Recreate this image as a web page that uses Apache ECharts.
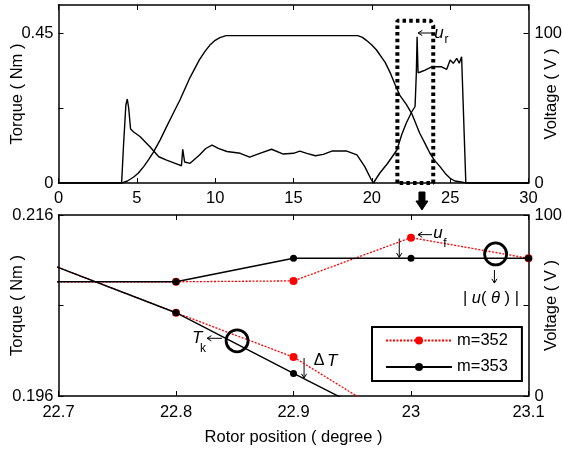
<!DOCTYPE html>
<html><head><meta charset="utf-8">
<script src="https://cdn.jsdelivr.net/npm/echarts@6/dist/echarts.min.js"></script>
<style>html,body{margin:0;padding:0;background:#fff}#c{width:563px;height:452px}</style>
</head><body><div id="c"></div><script>
// ---- tick values ----
const topXTicks = [0, 5, 10, 15, 20, 25, 30];
const topTorqueTicks = [0, 0.225, 0.45];
const topTorqueLabels = [0, 0.45];
const topVoltTicks = [0, 50, 100];
const topVoltLabels = [0, 100];
const botXTicks = [22.7, 22.8, 22.9, 23, 23.1];
const botTorqueTicks = [0.196, 0.206, 0.216];
const botTorqueLabels = [0.196, 0.216];
const botVoltTicks = [0, 50, 100];
const botVoltLabels = [0, 100];

// ---- top panel data: [rotor position, value] ----
const torqueTop = [[0,0],[4.05,0],[4.4,0.006],[4.8,0.018],[5.1,0.03],[5.45,0.05],[5.75,0.07],[6.05,0.092],[6.5,0.13],[6.9,0.169],[7.3,0.207],[7.75,0.249],[8.4,0.317],[9.0,0.37],[9.35,0.395],[9.65,0.413],[10.0,0.428],[10.3,0.436],[10.7,0.442],[19.1,0.442],[19.4,0.437],[19.65,0.428],[20.0,0.414],[20.3,0.399],[20.85,0.362],[21.2,0.328],[21.5,0.293],[21.8,0.262],[22.2,0.236],[22.54,0.209],[23.05,0.15],[23.4,0.118],[23.7,0.09],[24.0,0.068],[24.35,0.049],[24.7,0.028],[25.0,0.014],[25.3,0.006],[25.7,0.003],[26.0,0],[30,0]];
const voltageTop = [[0,0],[4.03,0],[4.15,25],[4.3,52],[4.39,56],[4.48,50],[4.6,36],[4.8,34],[5.2,31],[5.85,24],[6.4,17.5],[6.9,15.3],[7.45,13.1],[7.85,11.5],[7.93,22.5],[8.05,14],[8.4,13.1],[9.0,18.7],[9.4,23],[9.8,25.3],[10.2,23.1],[10.75,21],[11.6,19.8],[12.2,17.3],[12.85,19.8],[13.6,22.5],[14.35,19.3],[15.0,19.8],[15.4,21.3],[15.85,19.8],[16.4,18.2],[16.9,19.1],[17.45,21.3],[18.4,21.3],[19.05,18.7],[19.55,10.9],[19.95,2.5],[20.1,0],[20.5,6.5],[21.0,13],[21.6,22],[21.9,32],[22.2,40],[22.55,47.5],[22.76,51],[22.84,73],[22.89,97.5],[22.95,73.5],[23.1,74],[23.4,75.3],[23.82,77.5],[24.45,77.5],[24.78,75.8],[25.0,82],[25.2,79.8],[25.42,83.1],[25.58,79.8],[25.73,84.2],[26.0,0],[30,0]];
const zoomBox = [[21.63,0],[21.63,0.487],[23.75,0.487],[23.92,0.472],[23.92,0],[21.63,0]];

// ---- bottom panel data ----
const torque352 = [[22.6,0.2152],[22.8,0.2052],[22.9,0.2003],[23.0,0.1923]];
const torque353 = [[22.6,0.2152],[22.8,0.2052],[22.9,0.1985],[23.0,0.1919]];
const volt352 = [[22.6,63.1],[22.8,63.1],[22.9,63.6],[23.0,87.5],[23.1,76.1]];
const volt353 = [[22.6,63.1],[22.8,63.1],[22.9,76.1],[23.0,76.1],[23.1,76.1]];

const FONT = 'Liberation Sans, Arial, Helvetica, sans-serif';
const FS = 16.5;
const axLine = {show:true, onZero:false, lineStyle:{color:'#000', width:1.5}};
function tick(vals){ return {show:true, inside:true, length:5, customValues:vals, lineStyle:{color:'#000', width:1}}; }
function lab(vals, show, margin){ return {show:show, customValues:vals, color:'#000', fontSize:FS, fontFamily:FONT, margin:margin}; }
function nm(text, gap){ return {name:text, nameLocation:'middle', nameGap:gap, nameMoveOverlap:false, nameTextStyle:{color:'#000', fontSize:FS, fontFamily:FONT}}; }

const chart = echarts.init(document.getElementById('c'), null, {renderer:'canvas'});
const option = {
  animation:false,
  backgroundColor:'#fff',
  textStyle:{fontFamily:FONT},
  grid:[
    {left:58.5, top:5, width:470, height:178, containLabel:false, outerBoundsMode:'none'},
    {left:58.5, top:215, width:470, height:181, containLabel:false, outerBoundsMode:'none'}
  ],
  xAxis:[
    {gridIndex:0, type:'value', min:0, max:30, position:'bottom', axisLine:axLine, axisTick:tick(topXTicks), axisLabel:lab(topXTicks,true,7), splitLine:{show:false}},
    {gridIndex:0, type:'value', min:0, max:30, position:'top', axisLine:axLine, axisTick:tick(topXTicks), axisLabel:{show:false}, splitLine:{show:false}},
    Object.assign({gridIndex:1, type:'value', min:22.7, max:23.1, position:'bottom', axisLine:axLine, axisTick:tick(botXTicks), axisLabel:lab(botXTicks,true,8), splitLine:{show:false}}, nm('Rotor position ( degree )', 33)),
    {gridIndex:1, type:'value', min:22.7, max:23.1, position:'top', axisLine:axLine, axisTick:tick(botXTicks), axisLabel:{show:false}, splitLine:{show:false}}
  ],
  yAxis:[
    Object.assign({gridIndex:0, type:'value', min:0, max:0.534, position:'left', axisLine:axLine, axisTick:tick(topTorqueTicks), axisLabel:lab(topTorqueLabels,true,5), splitLine:{show:false}}, nm('Torque ( Nm )', 33)),
    Object.assign({gridIndex:0, type:'value', min:0, max:118.67, position:'right', axisLine:axLine, axisTick:tick(topVoltTicks), axisLabel:lab(topVoltLabels,true,6), splitLine:{show:false}}, nm('Voltage ( V )', 14)),
    Object.assign({gridIndex:1, type:'value', min:0.196, max:0.216, position:'left', axisLine:axLine, axisTick:tick(botTorqueTicks), axisLabel:lab(botTorqueLabels,true,5), splitLine:{show:false}}, nm('Torque ( Nm )', 33)),
    Object.assign({gridIndex:1, type:'value', min:0, max:100, position:'right', axisLine:axLine, axisTick:tick(botVoltTicks), axisLabel:lab(botVoltLabels,true,6), splitLine:{show:false}}, nm('Voltage ( V )', 14))
  ],
  legend:{
    data:['m=352','m=353'], orient:'vertical', left:372, top:327,
    itemWidth:66, itemHeight:10, itemGap:9.4,
    padding:[5,14,5.6,13], borderColor:'#000', borderWidth:2,
    textStyle:{color:'#000', fontSize:FS, fontFamily:FONT}, selectedMode:false
  },
  series:[
    {type:'line', xAxisIndex:0, yAxisIndex:0, data:torqueTop, symbol:'none', lineStyle:{color:'#000', width:1.4}, z:3},
    {type:'line', xAxisIndex:0, yAxisIndex:1, data:voltageTop, symbol:'none', lineStyle:{color:'#000', width:1.4}, z:3},
    {type:'line', xAxisIndex:0, yAxisIndex:0, data:zoomBox, symbol:'none', clip:false, lineStyle:{color:'#000', width:4, type:[3.5,3.2]}, z:4},
    {name:'m=352', type:'line', xAxisIndex:2, yAxisIndex:2, data:torque352, symbol:'circle', symbolSize:8, itemStyle:{color:'#ff0000'}, lineStyle:{color:'#ff0000', width:1.3, type:[2,1.5]}, z:3},
    {name:'m=352', type:'line', xAxisIndex:2, yAxisIndex:3, data:volt352, symbol:'circle', symbolSize:8, itemStyle:{color:'#ff0000'}, lineStyle:{color:'#ff0000', width:1.3, type:[2,1.5]}, z:3},
    {name:'m=353', type:'line', xAxisIndex:2, yAxisIndex:2, data:torque353, symbol:'circle', symbolSize:7, itemStyle:{color:'#000'}, lineStyle:{color:'#000', width:1.4}, z:4},
    {name:'m=353', type:'line', xAxisIndex:2, yAxisIndex:3, data:volt353, symbol:'circle', symbolSize:7, itemStyle:{color:'#000'}, lineStyle:{color:'#000', width:1.4}, z:4}
  ]
};
chart.setOption(option);

// ---- annotations ----
function P(xi, yi, pt){ return chart.convertToPixel({xAxisIndex:xi, yAxisIndex:yi}, pt); }
function arrowEl(x1,y1,x2,y2){
  const a = Math.atan2(y2-y1, x2-x1), h = 5, s = 0.55;
  return {type:'group', z:100, children:[
    {type:'line', shape:{x1:x1,y1:y1,x2:x2,y2:y2}, style:{stroke:'#000', lineWidth:1}},
    {type:'polyline', shape:{points:[[x2-h*Math.cos(a-s), y2-h*Math.sin(a-s)],[x2,y2],[x2-h*Math.cos(a+s), y2-h*Math.sin(a+s)]]}, style:{stroke:'#000', lineWidth:1, fill:null}}
  ]};
}
function txt(x,y,t,size,italic,align){
  return {type:'text', z:100, x:x, y:y, style:{text:t, fontSize:size, fontFamily:FONT, fontStyle:italic?'italic':'normal', fill:'#000', align:align||'center', verticalAlign:'middle'}};
}
function circ(c, r){ return {type:'circle', z:100, shape:{cx:c[0], cy:c[1], r:r}, style:{stroke:'#000', lineWidth:2.8, fill:null}}; }

const g = [];
// top panel: u_r label pointing at spike
const ur = P(0, 1, [22.95, 100]);
g.push(arrowEl(ur[0]+15, ur[1], ur[0], ur[1]));
g.push(txt(ur[0]+21, ur[1], 'u', 17, true));
g.push(txt(ur[0]+28.5, ur[1]+7, 'r', 12, false));
// big down arrow between panels
const ba = P(0, 0, [23.2, 0]);
g.push({type:'polygon', z:100, shape:{points:[[ba[0]-3,ba[1]+9],[ba[0]+3,ba[1]+9],[ba[0]+3,ba[1]+18],[ba[0]+6,ba[1]+18],[ba[0],ba[1]+27],[ba[0]-6,ba[1]+18],[ba[0]-3,ba[1]+18]]}, style:{fill:'#000', stroke:'#000', lineWidth:1}});
// bottom: Tk
const tk = P(2, 2, [22.852, 0.2021]);
g.push(circ(tk, 11));
g.push(arrowEl(tk[0]-15, tk[1]-2.5, tk[0]-30, tk[1]-2.5));
g.push(txt(tk[0]-40, tk[1]-2.5, 'T', 17, true));
g.push(txt(tk[0]-34, tk[1]+8, 'k', 12, false));
// Delta T
const d1 = P(2, 2, [22.909, 0.2002]), d2 = P(2, 2, [22.909, 0.19799]);
g.push(arrowEl(d1[0], d1[1], d2[0], d2[1]));
g.push(txt(d1[0]+15, d1[1]+3, 'Δ', 16, false));
g.push(txt(d1[0]+28, d1[1]+3, 'T', 17, true));
// u_f
const uf = P(2, 3, [23.0, 87.5]);
g.push(arrowEl(uf[0]+21, uf[1]-3, uf[0]+7, uf[1]-3));
g.push(txt(uf[0]+27, uf[1]-4, 'u', 17, true));
g.push(txt(uf[0]+34, uf[1]+6, 'f', 12, false));
// arrow between voltage curves
const v1 = P(2, 3, [22.99, 87]), v2 = P(2, 3, [22.99, 76.6]);
g.push(arrowEl(v1[0], v1[1], v2[0], v2[1]));
// |u(theta)| circle
const uc = P(2, 3, [23.072, 78.5]);
g.push(circ(uc, 11));
const a1 = P(2, 3, [23.071, 69.6]), a2 = P(2, 3, [23.071, 62.4]);
g.push(arrowEl(a1[0], a1[1], a2[0], a2[1]));
const ut = P(2, 3, [23.068, 54.1]);
g.push({type:'text', z:100, x:ut[0], y:ut[1], style:{
  text:'{n|| }{i|u}{n|( }{i|θ}{n| ) |}', align:'center', verticalAlign:'middle',
  rich:{n:{fontSize:16.5, fontFamily:FONT, fill:'#000'}, i:{fontSize:16.5, fontFamily:FONT, fontStyle:'italic', fill:'#000'}}
}});
chart.setOption({graphic:g});
</script></body></html>
